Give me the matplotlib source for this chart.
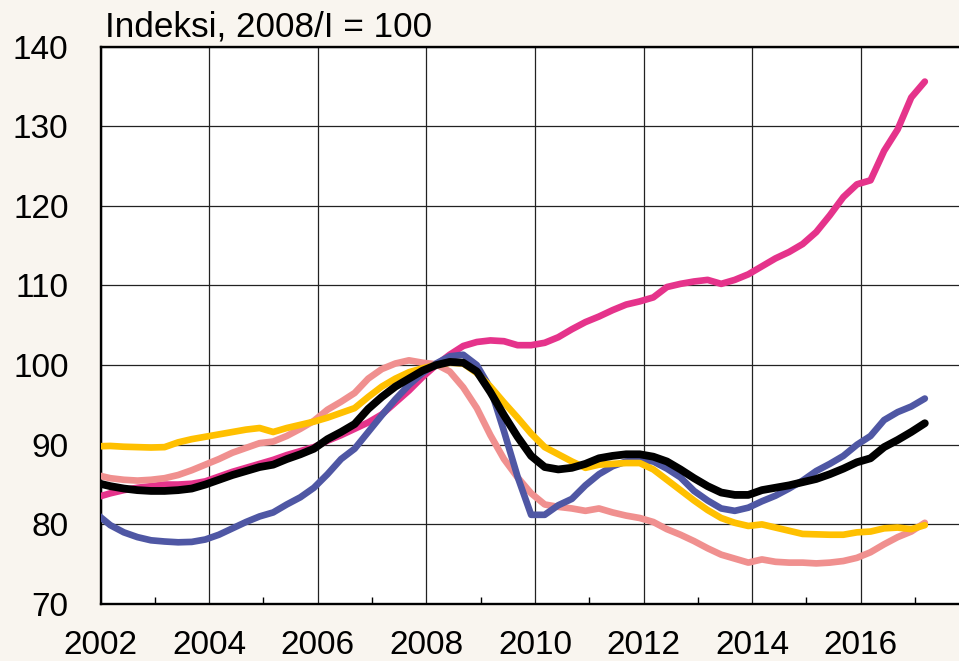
import matplotlib
matplotlib.use("Agg")
import matplotlib.pyplot as plt
from matplotlib.ticker import FixedLocator

# Quarterly data, 2001Q4 .. 2017Q1 (index 2008/I = 100)
start_year = 2001
start_quarter = 4
n_points = 62

magenta = [83.4, 83.9, 84.3, 84.6, 84.8, 85.0, 85.0, 85.1, 85.4, 86.0, 86.6, 87.1, 87.6,
           88.1, 88.7, 89.2, 89.7, 90.5, 91.2, 92.0, 92.8, 93.8, 95.3, 96.8, 98.5,
           100.0, 101.3, 102.4, 102.9, 103.1, 103.0, 102.5, 102.5, 102.8, 103.5, 104.5, 105.4,
           106.1, 106.9, 107.6, 108.0, 108.5, 109.8, 110.2, 110.5, 110.7, 110.2, 110.7, 111.4,
           112.4, 113.4, 114.2, 115.2, 116.7, 118.8, 121.1, 122.7, 123.2, 126.9, 129.6, 133.6, 135.6]

black = [85.2, 84.8, 84.5, 84.3, 84.2, 84.2, 84.3, 84.5, 85.0, 85.6, 86.2, 86.7, 87.2,
         87.5, 88.2, 88.8, 89.5, 90.7, 91.6, 92.6, 94.5, 96.0, 97.3, 98.3, 99.3,
         100.0, 100.4, 100.3, 99.2, 96.6, 93.7, 91.0, 88.6, 87.2, 86.9, 87.1, 87.6,
         88.3, 88.6, 88.8, 88.8, 88.5, 87.9, 86.9, 85.8, 84.8, 84.0, 83.7, 83.7,
         84.3, 84.6, 84.9, 85.3, 85.7, 86.3, 87.0, 87.8, 88.3, 89.7, 90.6, 91.6, 92.7]

blue = [81.3, 79.9, 79.0, 78.4, 78.0, 77.85, 77.75, 77.8, 78.1, 78.7, 79.5, 80.3, 81.0,
        81.5, 82.5, 83.4, 84.6, 86.3, 88.2, 89.5, 91.6, 93.7, 95.7, 97.5, 99.0,
        100.2, 101.1, 101.3, 100.0, 97.1, 91.7, 86.0, 81.2, 81.2, 82.4, 83.2, 84.9,
        86.3, 87.3, 87.9, 88.1, 87.9, 87.0, 85.9, 84.2, 83.0, 82.0, 81.7, 82.1,
        82.9, 83.6, 84.5, 85.5, 86.7, 87.6, 88.6, 90.0, 91.1, 93.1, 94.1, 94.8, 95.8]

yellow = [89.8, 89.85, 89.75, 89.7, 89.65, 89.7, 90.3, 90.7, 91.0, 91.3, 91.6, 91.9, 92.1,
          91.6, 92.1, 92.5, 92.9, 93.4, 94.0, 94.6, 96.0, 97.3, 98.3, 99.1, 99.6,
          100.0, 100.3, 100.2, 99.0, 97.3, 95.3, 93.4, 91.4, 89.7, 88.8, 87.9, 87.1,
          87.5, 87.6, 87.7, 87.7, 86.9, 85.6, 84.3, 83.0, 81.8, 80.8, 80.2, 79.8,
          80.0, 79.6, 79.2, 78.8, 78.75, 78.7, 78.7, 79.0, 79.1, 79.5, 79.6, 79.4, 79.9]

salmon = [86.2, 85.8, 85.6, 85.5, 85.6, 85.8, 86.2, 86.8, 87.5, 88.2, 89.0, 89.6, 90.2,
          90.4, 91.1, 92.0, 93.0, 94.4, 95.4, 96.5, 98.3, 99.5, 100.2, 100.6, 100.3,
          100.1, 99.2, 97.2, 94.6, 91.2, 88.2, 85.9, 83.9, 82.5, 82.2, 82.0, 81.7,
          82.0, 81.5, 81.1, 80.8, 80.3, 79.4, 78.7, 77.9, 77.0, 76.2, 75.7, 75.2,
          75.6, 75.3, 75.2, 75.2, 75.1, 75.2, 75.4, 75.8, 76.5, 77.5, 78.4, 79.1, 80.2]

year_labels = ["2002", "2004", "2006", "2008", "2010", "2012", "2014", "2016"]
y_ticks = [70, 80, 90, 100, 110, 120, 130, 140]
title_text = "Indeksi, 2008/I = 100"

# quarter positions on a continuous year axis (points drawn a bit into each quarter)
offset = 0.18
x = [start_year + (start_quarter - 1) * 0.25 + i * 0.25 + offset for i in range(n_points)]

FONT = ["Liberation Sans", "DejaVu Sans"]
bg = "#F9F5EF"
fig = plt.figure(figsize=(9.59, 6.61), dpi=100, facecolor=bg)
ax = fig.add_axes([0.1048, 0.0862, 0.906, 0.8434])
ax.set_facecolor("white")

lw = 4.8
ax.plot(x, magenta, color="#E5338B", lw=lw, solid_capstyle="round", zorder=3)
ax.plot(x, salmon, color="#F0908F", lw=lw, solid_capstyle="round", zorder=3)
ax.plot(x, blue, color="#4F57A4", lw=lw, solid_capstyle="round", zorder=4)
ax.plot(x, yellow, color="#FFC000", lw=lw, solid_capstyle="round", zorder=5)
ax.plot(x, black, color="black", lw=5.6, solid_capstyle="round", zorder=6)

ax.set_xlim(2002, 2018)
ax.set_ylim(70, 140)

ax.xaxis.set_major_locator(FixedLocator([int(s) for s in year_labels]))
ax.set_xticklabels(year_labels)
ax.xaxis.set_minor_locator(FixedLocator([int(s) + 1 for s in year_labels]))
ax.set_yticks(y_ticks)
ax.set_yticklabels([str(v) for v in y_ticks])

ax.grid(True, which="major", color="#222222", lw=0.9, zorder=1)
ax.set_axisbelow(True)

ax.tick_params(axis="x", which="major", length=0, pad=19, labelsize=24)
ax.tick_params(axis="x", which="minor", direction="in", length=5.3, width=1.0, color="black")
ax.tick_params(axis="y", which="major", length=0, pad=23, labelsize=24)

for lab in ax.get_xticklabels() + ax.get_yticklabels():
    lab.set_fontfamily(FONT)

for side in ["left", "bottom", "top"]:
    ax.spines[side].set_color("black")
    ax.spines[side].set_linewidth(1.7)
ax.spines["right"].set_visible(False)

fig.text(0.1095, 0.9455, title_text, fontsize=25.3, va="baseline", ha="left", family=FONT)

fig.savefig("out.png", dpi=100, facecolor=bg)
